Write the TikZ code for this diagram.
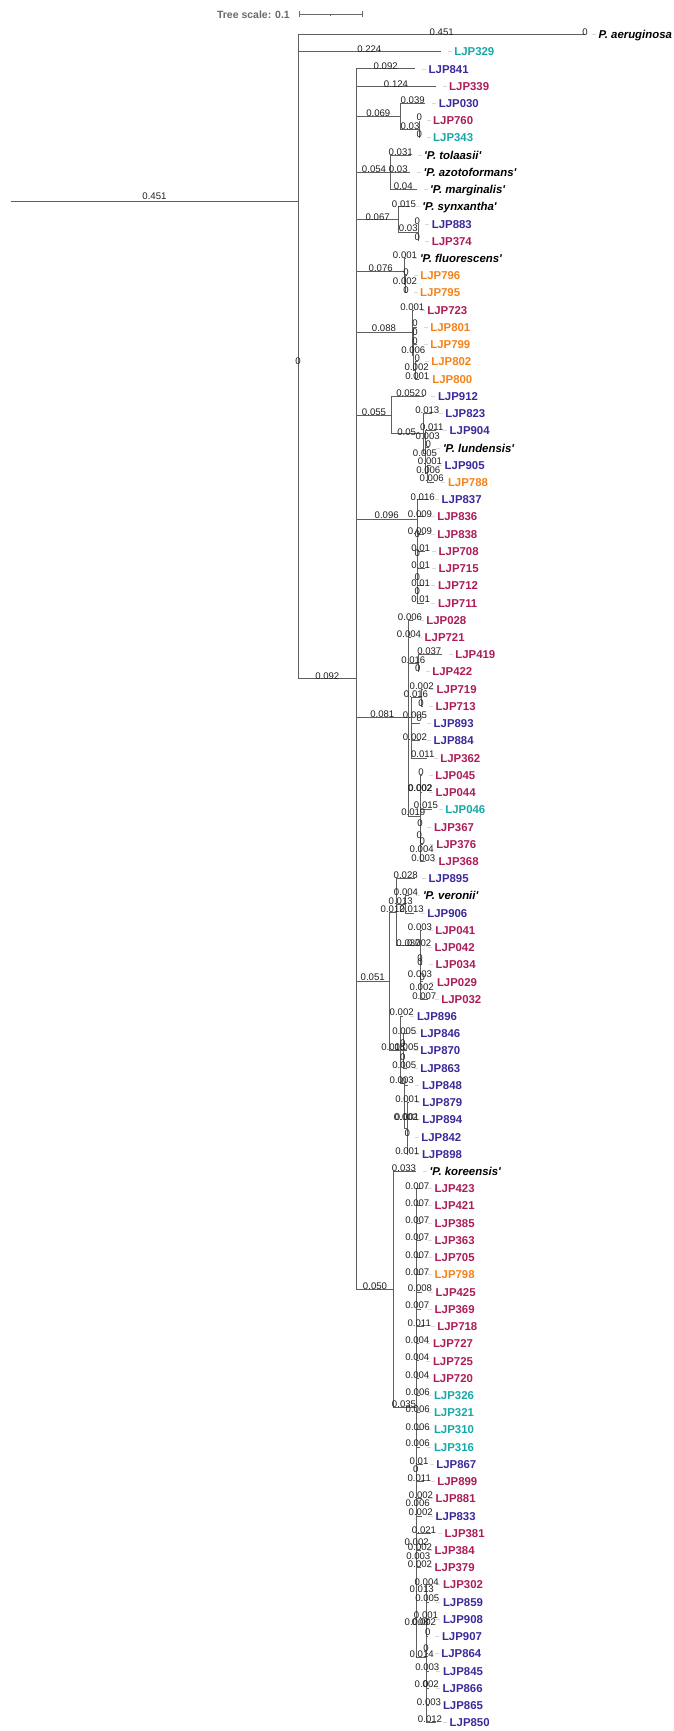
\documentclass[tikz,border=0pt]{standalone}
\usepackage{fontspec}
\setmainfont{Liberation Sans}
\definecolor{brc}{RGB}{95,95,95}
\definecolor{tl}{RGB}{22,168,168}
\definecolor{ind}{RGB}{60,40,155}
\definecolor{cr}{RGB}{172,28,88}
\definecolor{org}{RGB}{245,130,25}
\definecolor{scg}{RGB}{105,105,105}
% leaf rows: row r sits at 17.27 + 17.226 r
\pgfmathdeclarefunction{rw}{1}{\pgfmathparse{17.27+17.226*#1}}
\newcounter{blab}
\newcommand\sq[1]{\textquotesingle#1\textquotesingle}
% leaf tip, leader dash and label
\newcommand\leaf[5]{%
  \coordinate (#1) at (#3,{rw(#2)});
  \draw[lead] ([xshift=7pt]#1) -- ([xshift=11pt]#1);
  \node[#4] (#1-t) at ([xshift=13.5pt]#1) {#5};}
% branch length label
\newcommand\bl[3]{\stepcounter{blab}\node[bl] (bl\theblab) at (#1,#2) {#3};}
% elbow branches from a parent to its children
\newcommand\kids[2]{\foreach \ch in {#2}{\draw[br] (#1) |- (\ch);}}
\begin{document}
\begin{tikzpicture}[x=1pt,y=-1pt,
  br/.style={draw=brc,line width=0.9pt},
  lead/.style={draw=gray!30,line width=0.8pt},
  lab/.style={anchor=west,inner sep=0pt,font=\fontsize{11.4}{13}\selectfont\bfseries,text height=8.2pt,text depth=0pt},
  sp/.style={lab,font=\fontsize{11.4}{13}\selectfont\bfseries\itshape,text=black},
  bl/.style={inner sep=0pt,font=\fontsize{9.6}{11}\selectfont,text=black!88},
  sbar/.style={draw=scg,line width=0.9pt}]
\useasboundingbox (0,0) rectangle (674,1731);

% ---- scale bar
\node[anchor=east,inner sep=0pt,font=\fontsize{10.5}{12}\selectfont\bfseries,text=scg] (tsc) at (290,14.3) {Tree scale: 0.1};
\coordinate (s0) at (299,14.3);
\coordinate (s1) at (362.3,14.3);
\coordinate (sm) at (330.7,14.3);
\draw[sbar] (s0) -- (s1);
\draw[sbar] ([yshift=2.8pt]s0) -- ([yshift=-2.8pt]s0);
\draw[sbar] ([yshift=2.8pt]s1) -- ([yshift=-2.8pt]s1);
\draw[sbar] (sm) -- ([yshift=-1.8pt]sm);

% ---- internal nodes
\coordinate (base) at (11,{rw(10.72)});
\coordinate (R) at (298,{rw(10.72)});
\coordinate (N1) at (356.5,{rw(38.41)});
\coordinate (A) at (400.2,{rw(5.75)});
\coordinate (A1) at (419.5,{rw(6.5)});
\coordinate (B) at (390.7,{rw(9)});
\coordinate (C) at (398.9,{rw(11.75)});
\coordinate (C1) at (418.2,{rw(12.5)});
\coordinate (D) at (404.6,{rw(14.75)});
\coordinate (D1) at (405.5,{rw(15.5)});
\coordinate (E) at (412.2,{rw(18.31)});
\coordinate (E1) at (413.2,{rw(19.62)});
\coordinate (E2) at (415.5,{rw(20.5)});
\coordinate (F) at (391.3,{rw(23.1)});
\coordinate (F2) at (423.3,{rw(24.15)});
\coordinate (F3) at (425.5,{rw(25.3)});
\coordinate (F4) at (427.5,{rw(26.5)});
\coordinate (G) at (417.3,{rw(29.14)});
\coordinate (H) at (408,{rw(40.66)});
\coordinate (H1) at (418.1,{rw(37.5)});
\coordinate (H2) at (411.7,{rw(40.66)});
\coordinate (H2a) at (421.8,{rw(39.5)});
\coordinate (H3) at (420,{rw(46.4)});
\coordinate (I) at (389.3,{rw(55.98)});
\coordinate (I1) at (396.7,{rw(51.95)});
\coordinate (I1a) at (405,{rw(51.5)});
\coordinate (I1b) at (420,{rw(53.9)});
\coordinate (I2) at (400.7,{rw(60)});
\coordinate (I2a) at (403,{rw(60)});
\coordinate (I2b) at (404,{rw(61.9)});
\coordinate (I2c) at (407.3,{rw(64.5)});
\coordinate (J) at (393.5,{rw(73.85)});
\coordinate (J1) at (416.7,{rw(80.69)});
\coordinate (J1z) at (426.5,{rw(95.2)});

% ---- leaves
\leaf{aer}{1}{585}{sp}{P. aeruginosa}
\leaf{L329}{2}{440.7}{lab,text=tl}{LJP329}
\leaf{L841}{3}{415}{lab,text=ind}{LJP841}
\leaf{L339}{4}{435.5}{lab,text=cr}{LJP339}
\leaf{L030}{5}{425.2}{lab,text=ind}{LJP030}
\leaf{L760}{6}{419.5}{lab,text=cr}{LJP760}
\leaf{L343}{7}{419.5}{lab,text=tl}{LJP343}
\leaf{tol}{8}{410.5}{sp}{\sq{P. tolaasii}}
\leaf{azo}{9}{410}{sp}{\sq{P. azotoformans}}
\leaf{mar}{10}{416.5}{sp}{\sq{P. marginalis}}
\leaf{syn}{11}{408.7}{sp}{\sq{P. synxantha}}
\leaf{L883}{12}{418.2}{lab,text=ind}{LJP883}
\leaf{L374}{13}{418.2}{lab,text=cr}{LJP374}
\leaf{flu}{14}{406.3}{sp}{\sq{P. fluorescens}}
\leaf{L796}{15}{406.7}{lab,text=org}{LJP796}
\leaf{L795}{16}{406.5}{lab,text=org}{LJP795}
\leaf{L723}{17}{413.7}{lab,text=cr}{LJP723}
\leaf{L801}{18}{416.7}{lab,text=org}{LJP801}
\leaf{L799}{19}{416.7}{lab,text=org}{LJP799}
\leaf{L802}{20}{417.7}{lab,text=org}{LJP802}
\leaf{L800}{21}{418.7}{lab,text=org}{LJP800}
\leaf{L912}{22}{424.3}{lab,text=ind}{LJP912}
\leaf{L823}{23}{431.7}{lab,text=ind}{LJP823}
\leaf{L904}{24}{436}{lab,text=ind}{LJP904}
\leaf{lun}{25}{429.3}{sp}{\sq{P. lundensis}}
\leaf{L905}{26}{431}{lab,text=ind}{LJP905}
\leaf{L788}{27}{434.3}{lab,text=org}{LJP788}
\leaf{L837}{28}{428}{lab,text=ind}{LJP837}
\leaf{L836}{29}{423.7}{lab,text=cr}{LJP836}
\leaf{L838}{30}{423.7}{lab,text=cr}{LJP838}
\leaf{L708}{31}{425}{lab,text=cr}{LJP708}
\leaf{L715}{32}{425}{lab,text=cr}{LJP715}
\leaf{L712}{33}{424.3}{lab,text=cr}{LJP712}
\leaf{L711}{34}{424.3}{lab,text=cr}{LJP711}
\leaf{L028}{35}{412.7}{lab,text=cr}{LJP028}
\leaf{L721}{36}{411}{lab,text=cr}{LJP721}
\leaf{L419}{37}{441.7}{lab,text=cr}{LJP419}
\leaf{L422}{38}{418.7}{lab,text=cr}{LJP422}
\leaf{L719}{39}{423}{lab,text=cr}{LJP719}
\leaf{L713}{40}{422}{lab,text=cr}{LJP713}
\leaf{L893}{41}{420}{lab,text=ind}{LJP893}
\leaf{L884}{42}{420}{lab,text=ind}{LJP884}
\leaf{L362}{43}{426.7}{lab,text=cr}{LJP362}
\leaf{L045}{44}{421.7}{lab,text=cr}{LJP045}
\leaf{L044}{45}{422}{lab,text=cr}{LJP044}
\leaf{L046}{46}{431.7}{lab,text=tl}{LJP046}
\leaf{L367}{47}{420.3}{lab,text=cr}{LJP367}
\leaf{L376}{48}{422.7}{lab,text=cr}{LJP376}
\leaf{L368}{49}{425}{lab,text=cr}{LJP368}
\leaf{L895}{50}{415}{lab,text=ind}{LJP895}
\leaf{ver}{51}{409.3}{sp}{\sq{P. veronii}}
\leaf{L906}{52}{413.7}{lab,text=ind}{LJP906}
\leaf{L041}{53}{421.7}{lab,text=cr}{LJP041}
\leaf{L042}{54}{421}{lab,text=cr}{LJP042}
\leaf{L034}{55}{422}{lab,text=cr}{LJP034}
\leaf{L029}{56}{423.3}{lab,text=cr}{LJP029}
\leaf{L032}{57}{427.7}{lab,text=cr}{LJP032}
\leaf{L896}{58}{403.3}{lab,text=ind}{LJP896}
\leaf{L846}{59}{406.7}{lab,text=ind}{LJP846}
\leaf{L870}{60}{406.7}{lab,text=ind}{LJP870}
\leaf{L863}{61}{406.7}{lab,text=ind}{LJP863}
\leaf{L848}{62}{408.3}{lab,text=ind}{LJP848}
\leaf{L879}{63}{408.7}{lab,text=ind}{LJP879}
\leaf{L894}{64}{408.7}{lab,text=ind}{LJP894}
\leaf{L842}{65}{407.7}{lab,text=ind}{LJP842}
\leaf{L898}{66}{408.3}{lab,text=ind}{LJP898}
\leaf{kor}{67}{416}{sp}{\sq{P. koreensis}}
\leaf{L423}{68}{421}{lab,text=cr}{LJP423}
\leaf{L421}{69}{421}{lab,text=cr}{LJP421}
\leaf{L385}{70}{421}{lab,text=cr}{LJP385}
\leaf{L363}{71}{421}{lab,text=cr}{LJP363}
\leaf{L705}{72}{421}{lab,text=cr}{LJP705}
\leaf{L798}{73}{421}{lab,text=org}{LJP798}
\leaf{L425}{74}{422}{lab,text=cr}{LJP425}
\leaf{L369}{75}{421}{lab,text=cr}{LJP369}
\leaf{L718}{76}{423.7}{lab,text=cr}{LJP718}
\leaf{L727}{77}{419.3}{lab,text=cr}{LJP727}
\leaf{L725}{78}{419.3}{lab,text=cr}{LJP725}
\leaf{L720}{79}{419.3}{lab,text=cr}{LJP720}
\leaf{L326}{80}{420.3}{lab,text=tl}{LJP326}
\leaf{L321}{81}{420.3}{lab,text=tl}{LJP321}
\leaf{L310}{82}{420.3}{lab,text=tl}{LJP310}
\leaf{L316}{83}{420.3}{lab,text=tl}{LJP316}
\leaf{L867}{84}{422.7}{lab,text=ind}{LJP867}
\leaf{L899}{85}{423.7}{lab,text=cr}{LJP899}
\leaf{L881}{86}{422}{lab,text=cr}{LJP881}
\leaf{L833}{87}{422}{lab,text=ind}{LJP833}
\leaf{L381}{88}{431}{lab,text=cr}{LJP381}
\leaf{L384}{89}{421}{lab,text=cr}{LJP384}
\leaf{L379}{90}{421}{lab,text=cr}{LJP379}
\leaf{L302}{91}{429.3}{lab,text=cr}{LJP302}
\leaf{L859}{92}{429.3}{lab,text=ind}{LJP859}
\leaf{L908}{93}{429.3}{lab,text=ind}{LJP908}
\leaf{L907}{94}{428.3}{lab,text=ind}{LJP907}
\leaf{L864}{95}{427.7}{lab,text=ind}{LJP864}
\leaf{L845}{96}{429.3}{lab,text=ind}{LJP845}
\leaf{L866}{97}{429}{lab,text=ind}{LJP866}
\leaf{L865}{98}{429.3}{lab,text=ind}{LJP865}
\leaf{L850}{99}{436}{lab,text=ind}{LJP850}

% ---- branches
\draw[br] (base) -- (R);
\kids{R}{aer,L329,N1}
\kids{N1}{L841,L339,A,B,C,D,E,F,G,H,I,J}
\kids{A}{L030,A1}
\kids{A1}{L760,L343}
\kids{B}{tol,azo,mar}
\kids{C}{syn,C1}
\kids{C1}{L883,L374}
\kids{D}{flu,D1}
\kids{D1}{L796,L795}
\kids{E}{L723,E1}
\kids{E1}{L801,L799,E2}
\kids{E2}{L802,L800}
\kids{F}{L912,F2}
\kids{F2}{L823,F3}
\kids{F3}{L904,lun,F4}
\kids{F4}{L905,L788}
\kids{G}{L837,L836,L838,L708,L715,L712,L711}
\kids{H}{L028,L721,H1,H2,H3}
\kids{H1}{L419,L422}
\kids{H2}{H2a,L893,L884,L362}
\kids{H2a}{L719,L713}
\kids{H3}{L045,L044,L046,L367,L376,L368}
\kids{I}{I1,I2}
\kids{I1}{L895,I1a,I1b}
\kids{I1a}{ver,L906}
\kids{I1b}{L041,L042,L034,L029,L032}
\kids{I2}{L896,I2a,I2b}
\kids{I2a}{L846,L870,L863}
\kids{I2b}{L848,I2c}
\kids{I2c}{L879,L894,L842,L898}
\kids{J}{kor,J1}
\kids{J1}{L423,L421,L385,L363,L705,L798,L425,L369,L718,L727,L725,L720,L326,L321,L310,L316,L867,L899,L881,L833,L381,L384,L379,J1z}
\kids{J1z}{L302,L859,L908,L907,L864,L845,L866,L865,L850}

% ---- branch lengths
\bl{154.5}{196.5}{0.451}
\bl{298}{361}{0}
\bl{441.7}{32.3}{0.451}
\bl{585}{32}{0}
\bl{369.3}{49}{0.224}
\bl{385.7}{66}{0.092}
\bl{396}{83.7}{0.124}
\bl{412.7}{100.3}{0.039}
\bl{378.3}{113.3}{0.069}
\bl{419.3}{116.7}{0}
\bl{410}{126}{0.03}
\bl{419.3}{134.3}{0}
\bl{400.7}{152.3}{0.031}
\bl{374}{169.3}{0.054}
\bl{398.3}{169.3}{0.03}
\bl{403.3}{185.7}{0.04}
\bl{404}{204}{0.015}
\bl{377.7}{216.7}{0.067}
\bl{417.3}{221}{0}
\bl{408.3}{228.3}{0.03}
\bl{417.3}{236.7}{0}
\bl{405}{255}{0.001}
\bl{380.7}{268.3}{0.076}
\bl{406}{271.7}{0}
\bl{405}{280.7}{0.002}
\bl{406}{290}{0}
\bl{412.3}{306.7}{0.001}
\bl{384}{328.3}{0.088}
\bl{415}{323.3}{0}
\bl{415}{332.3}{0}
\bl{415}{340.7}{0}
\bl{413.3}{350}{0.006}
\bl{417.3}{358.3}{0}
\bl{416.7}{367.3}{0.002}
\bl{417.3}{376}{0.001}
\bl{408.3}{392.7}{0.052}
\bl{424}{392.7}{0}
\bl{374}{412.3}{0.055}
\bl{427.3}{410}{0.013}
\bl{406.7}{431.7}{0.05}
\bl{431.7}{426.7}{0.011}
\bl{427.7}{435.7}{0.003}
\bl{428.3}{444.3}{0}
\bl{425}{453.3}{0.005}
\bl{430}{461}{0.001}
\bl{428.3}{470}{0.006}
\bl{431.7}{478.3}{0.006}
\bl{422.7}{496.7}{0.016}
\bl{386.7}{515}{0.096}
\bl{420}{514}{0.009}
\bl{420}{530.7}{0.009}
\bl{417.3}{534}{0}
\bl{420.7}{547.7}{0.01}
\bl{417.3}{553.3}{0}
\bl{420.7}{565}{0.01}
\bl{417.3}{576.7}{0}
\bl{420.7}{583.3}{0.01}
\bl{417.3}{590.7}{0}
\bl{420.7}{599}{0.01}
\bl{410}{616.7}{0.006}
\bl{409}{634}{0.004}
\bl{429.3}{651}{0.037}
\bl{413.3}{660}{0.016}
\bl{417.7}{668.3}{0}
\bl{327.3}{676}{0.092}
\bl{421.7}{686}{0.002}
\bl{416}{694}{0.016}
\bl{421}{702.7}{0}
\bl{382.3}{714.3}{0.081}
\bl{415}{715}{0.005}
\bl{419.3}{718.3}{0}
\bl{415}{737.3}{0.002}
\bl{422.7}{754.3}{0.011}
\bl{421}{771.7}{0}
\bl{420}{788.3}{0.002}
\bl{420.4}{788.3}{0.002}
\bl{426}{805}{0.015}
\bl{413.3}{812.3}{0.019}
\bl{420}{823.3}{0}
\bl{419.3}{835}{0}
\bl{422.3}{840.7}{0}
\bl{421.7}{849}{0.004}
\bl{423.3}{857.7}{0.003}
\bl{405.7}{875}{0.028}
\bl{406}{892.3}{0.004}
\bl{400.7}{901}{0.013}
\bl{392.7}{909.3}{0.012}
\bl{411.7}{909.3}{0.013}
\bl{420}{926.7}{0.003}
\bl{408.5}{942.7}{0.037}
\bl{419.2}{942.7}{0.002}
\bl{420}{958.3}{0}
\bl{420}{961.7}{0}
\bl{420}{974}{0.003}
\bl{422.3}{977.3}{0}
\bl{421.7}{986.7}{0.002}
\bl{424.3}{995.7}{0.007}
\bl{372.7}{977.3}{0.051}
\bl{401.7}{1012.3}{0.002}
\bl{404.3}{1030.7}{0.005}
\bl{393.3}{1047.3}{0.018}
\bl{406.7}{1047.3}{0.005}
\bl{402.7}{1042.7}{0}
\bl{402.7}{1056.7}{0}
\bl{404.3}{1065}{0.005}
\bl{401.7}{1080}{0.003}
\bl{404}{1081}{0}
\bl{407.3}{1099.3}{0.001}
\bl{406}{1116.7}{0.002}
\bl{407}{1116.7}{0.001}
\bl{407.3}{1133.3}{0}
\bl{407.3}{1150.7}{0.001}
\bl{404}{1167.7}{0.033}
\bl{375}{1286}{0.050}
\bl{417.3}{1186}{0.007}
\bl{417.3}{1202.7}{0.007}
\bl{417.3}{1220}{0.007}
\bl{417.3}{1237.3}{0.007}
\bl{417.3}{1255}{0.007}
\bl{417.3}{1271.7}{0.007}
\bl{420}{1288.3}{0.008}
\bl{417.3}{1305}{0.007}
\bl{419.3}{1323.3}{0.011}
\bl{417.3}{1340}{0.004}
\bl{417.3}{1357.3}{0.004}
\bl{417.3}{1375}{0.004}
\bl{417.7}{1392.3}{0.006}
\bl{404}{1404}{0.035}
\bl{417.7}{1409.3}{0.006}
\bl{417.7}{1426.7}{0.006}
\bl{417.7}{1443.3}{0.006}
\bl{419}{1461}{0.01}
\bl{415.7}{1469}{0}
\bl{419.3}{1477.7}{0.011}
\bl{421}{1495}{0.002}
\bl{417.7}{1503.3}{0.006}
\bl{420.7}{1512.3}{0.002}
\bl{424}{1530}{0.021}
\bl{416.7}{1541.7}{0.002}
\bl{420}{1546.7}{0.002}
\bl{418.3}{1556}{0.003}
\bl{420}{1564.3}{0.002}
\bl{426.7}{1581.7}{0.004}
\bl{421.7}{1589.3}{0.013}
\bl{427.3}{1597.7}{0.005}
\bl{426}{1615}{0.001}
\bl{416.7}{1621.7}{0.008}
\bl{424}{1621.7}{0.002}
\bl{427.7}{1631.7}{0}
\bl{426}{1648.3}{0}
\bl{421.7}{1654.3}{0.014}
\bl{427.3}{1667.3}{0.003}
\bl{426.7}{1684.3}{0.002}
\bl{425.7}{1684.3}{0}
\bl{429}{1701.7}{0.003}
\bl{430}{1719.3}{0.012}
\end{tikzpicture}
\end{document}
